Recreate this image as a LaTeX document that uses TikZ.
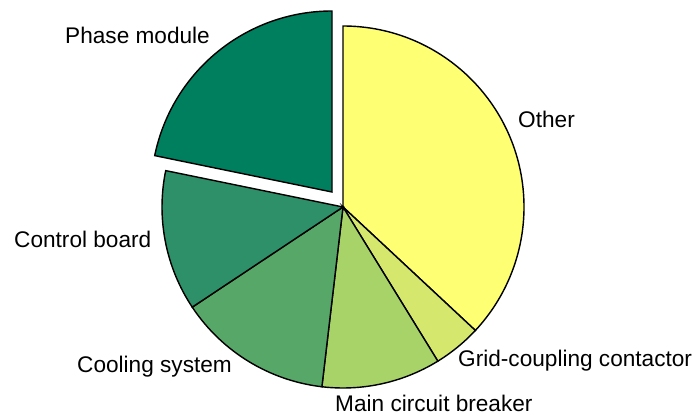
\documentclass[tikz,border=0pt]{standalone}
\usepackage{fontspec}
\setmainfont{Liberation Sans}
\usepackage{tikz}
\usetikzlibrary{calc,positioning}

\definecolor{phasecol}{RGB}{0,127,95}
\definecolor{controlcol}{RGB}{45,144,104}
\definecolor{coolingcol}{RGB}{87,168,104}
\definecolor{maincol}{RGB}{168,211,104}
\definecolor{gridcol}{RGB}{214,231,110}
\definecolor{othercol}{RGB}{255,255,115}

\tikzset{
	slice/.style={draw=black,line width=1.2pt,line join=miter},
	lbl/.style={anchor=base west,inner sep=0pt,font=\fontsize{19.3}{23}\selectfont}
}

\begin{document}
\begin{tikzpicture}[x=0.03cm,y=0.03cm]
		\useasboundingbox (0,0) rectangle (695,416);
		\coordinate (c) at (343,209);
		\coordinate (cx) at (332,224);
		% slices, clockwise from the top
		\filldraw [slice,fill=othercol] (c) -- ++(90:181) arc [start angle=90,end angle=-43,radius=181] -- cycle;
		\filldraw [slice,fill=gridcol] (c) -- ++(-43:181) arc [start angle=-43,end angle=-58.4,radius=181] -- cycle;
		\filldraw [slice,fill=maincol] (c) -- ++(-58.4:181) arc [start angle=-58.4,end angle=-96.7,radius=181] -- cycle;
		\filldraw [slice,fill=coolingcol] (c) -- ++(-96.7:181) arc [start angle=-96.7,end angle=-146.4,radius=181] -- cycle;
		\filldraw [slice,fill=controlcol] (c) -- ++(-146.4:181) arc [start angle=-146.4,end angle=-191.6,radius=181] -- cycle;
		% pulled out
		\filldraw [slice,fill=phasecol] (cx) -- ++(168.4:181) arc [start angle=168.4,end angle=90,radius=181] -- cycle;
		% labels
		\node (phase) [lbl] at (65,372) {Phase module};
		\node (other) [lbl] at (518,288) {Other};
		\node (control) [lbl] at (14,168) {Control board};
		\node (cooling) [lbl] at (77,44) {Cooling system};
		\node (grid) [lbl] at (458,49) {Grid-coupling contactor};
		\node (main) [lbl] at (335,5) {Main circuit breaker};
	\end{tikzpicture}
\end{document}
